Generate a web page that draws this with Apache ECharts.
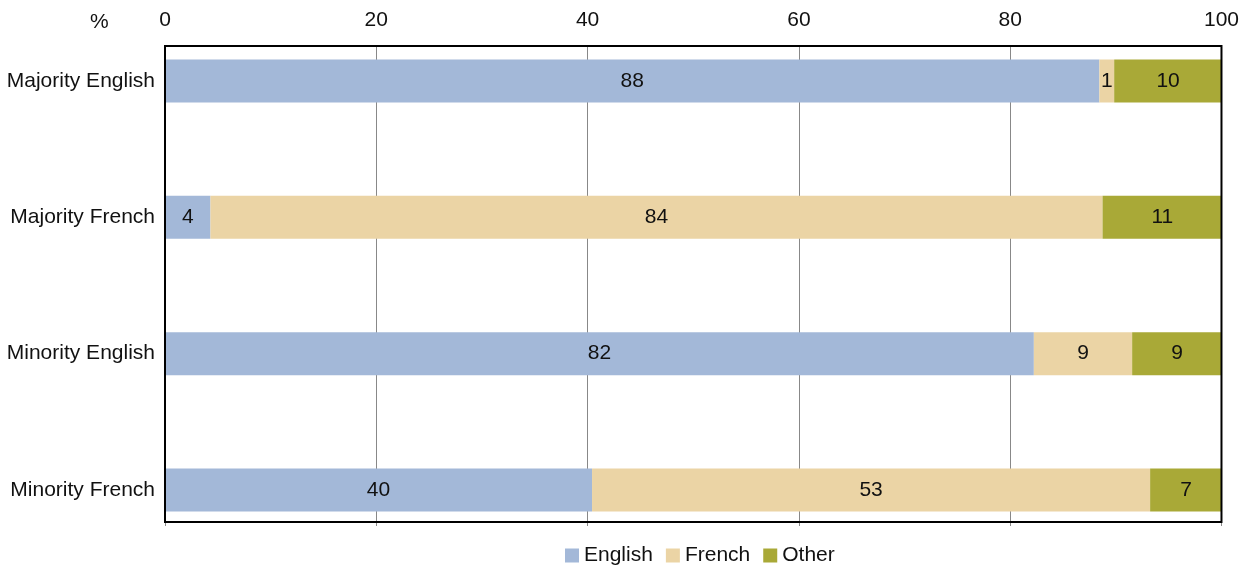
<!DOCTYPE html>
<html>
<head>
<meta charset="utf-8">
<script src="https://cdn.jsdelivr.net/npm/echarts@6/dist/echarts.min.js"></script>
<style>
  html, body { margin: 0; padding: 0; background: #fff; }
  #main { width: 1242px; height: 565px; }
</style>
</head>
<body>
<div id="main"></div>
<script>
// groups, top to bottom
var groups = ['Majority English', 'Majority French', 'Minority English', 'Minority French'];
// shares in %, labels show rounded values
var english = [88.4, 4.3, 82.2, 40.4];
var french = [1.4, 84.4, 9.3, 52.8];
var other = [10.2, 11.3, 8.5, 6.8];
var xTicks = [0, 20, 40, 60, 80, 100];

var colors = ['#a3b8d8', '#ebd4a5', '#a9a937'];
var font = 'Liberation Sans, Arial, sans-serif';

function barSeries(name, data) {
  return {
    name: name,
    type: 'bar',
    stack: 'total',
    xAxisIndex: 2,
    yAxisIndex: 1,
    barWidth: 43,
    data: data,
    label: {
      show: true,
      position: 'inside',
      color: '#111',
      fontSize: 21,
      fontFamily: font,
      formatter: function (p) { return Math.round(p.value); }
    }
  };
}

var chart = echarts.init(document.getElementById('main'));
chart.setOption({
  animation: false,
  color: colors,
  textStyle: { fontFamily: font },
  title: {
    text: '%',
    left: 85,
    top: 7,
    textStyle: { fontSize: 21, fontWeight: 'normal', color: '#111', fontFamily: font }
  },
  grid: [
    // frame with the value scale
    { left: 165, right: 20, top: 46, bottom: 43, show: true, borderColor: '#000', borderWidth: 2, backgroundColor: 'transparent', z: 3 },
    // bars
    { left: 165, right: 20, top: 81, bottom: 75 }
  ],
  legend: {
    top: 540,
    left: 560,
    icon: 'rect',
    itemWidth: 14,
    itemHeight: 14,
    itemGap: 13,
    textStyle: { fontSize: 21, color: '#111', fontFamily: font },
    data: ['English', 'French', 'Other']
  },
  xAxis: [
    {
      gridIndex: 0,
      type: 'value',
      position: 'top',
      min: xTicks[0],
      max: xTicks[xTicks.length - 1],
      interval: 20,
      axisLine: { show: false },
      axisTick: { show: false },
      axisLabel: { margin: 15, fontSize: 21, color: '#111', fontFamily: font },
      splitLine: { show: true, lineStyle: { color: '#888', width: 1 } }
    },
    {
      gridIndex: 0,
      type: 'value',
      position: 'bottom',
      min: xTicks[0],
      max: xTicks[xTicks.length - 1],
      interval: 20,
      axisLine: { show: false },
      axisTick: { show: true, length: 4, lineStyle: { color: '#888' } },
      axisLabel: { show: false },
      splitLine: { show: false }
    },
    {
      gridIndex: 1,
      type: 'value',
      min: xTicks[0],
      max: xTicks[xTicks.length - 1],
      show: false
    }
  ],
  yAxis: [
    { gridIndex: 0, type: 'value', show: false },
    {
      gridIndex: 1,
      type: 'category',
      inverse: true,
      boundaryGap: false,
      data: groups,
      axisLine: { show: false },
      axisTick: { show: false },
      splitLine: { show: false },
      axisLabel: { margin: 10, fontSize: 21, color: '#111', fontFamily: font }
    }
  ],
  series: [
    barSeries('English', english),
    barSeries('French', french),
    barSeries('Other', other)
  ]
});
</script>
</body>
</html>
